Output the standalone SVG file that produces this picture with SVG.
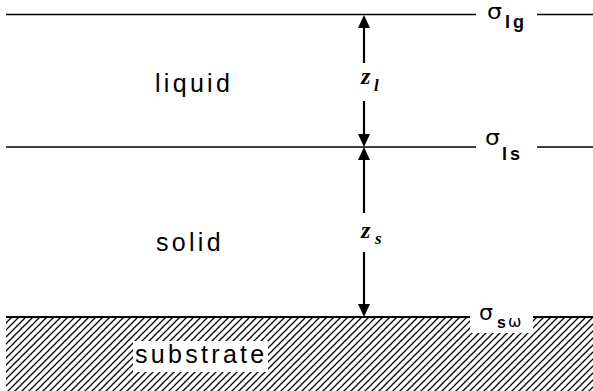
<svg xmlns="http://www.w3.org/2000/svg" width="593" height="391" viewBox="0 0 593 391">
<style>
.ln{stroke:#000;stroke-width:1.4;fill:none}
.ar{stroke:#000;stroke-width:2.2;fill:none}
.lab{font-family:"Liberation Sans",Arial,sans-serif;font-size:25px;letter-spacing:3.3px;fill:#000}
.sig{font-family:"DejaVu Sans",sans-serif;font-size:21px;fill:#000}
.sub{font-family:"Liberation Sans",Arial,sans-serif;font-weight:bold;font-size:18px;letter-spacing:3px;fill:#000}
.z{font-family:"Liberation Serif",serif;font-weight:bold;font-style:italic;font-size:24px;fill:#000}
.zs{font-family:"Liberation Serif",serif;font-weight:bold;font-style:italic;font-size:17px;fill:#000}
</style>
<defs>
<pattern id="hatch" patternUnits="userSpaceOnUse" width="7" height="7">
<path d="M-1,8 L8,-1 M-1,1 L1,-1 M6,8 L8,6" stroke="#000" stroke-width="1.25"/>
</pattern>
<marker id="ah" markerUnits="userSpaceOnUse" viewBox="0 0 13 12" markerWidth="13" markerHeight="12" refX="9" refY="6" orient="auto">
<path d="M0,0 L13,6 L0,12 z" fill="#000"/>
</marker>
</defs>
<rect width="593" height="391" fill="#fff"/>
<g id="substrate">
<rect x="6" y="317" width="587" height="74" fill="url(#hatch)"/>
<rect x="470" y="305" width="63" height="28" fill="#fff"/>
<rect x="133" y="341" width="135" height="31" fill="#fff"/>
<line class="ln" x1="6" y1="317" x2="470" y2="317" style="stroke-width:2"/>
<line class="ln" x1="533" y1="317" x2="593" y2="317" style="stroke-width:2"/>
<text class="lab" x="135" y="363">substrate</text>
</g>
<g id="liquid-gas-interface">
<line class="ln" x1="6" y1="14.5" x2="476" y2="14.5"/>
<line class="ln" x1="537" y1="14.5" x2="593" y2="14.5"/>
<text class="sig" x="487" y="19" textLength="15" lengthAdjust="spacingAndGlyphs">σ</text>
<text class="sub" x="505" y="28">lg</text>
</g>
<g id="liquid-solid-interface">
<line class="ln" x1="6" y1="147" x2="476" y2="147"/>
<line class="ln" x1="537" y1="147" x2="593" y2="147"/>
<text class="sig" x="485" y="145" textLength="15" lengthAdjust="spacingAndGlyphs">σ</text>
<text class="sub" x="502" y="160">ls</text>
</g>
<g id="substrate-label">
<text class="sig" x="479" y="320" textLength="14" lengthAdjust="spacingAndGlyphs">σ</text>
<text class="sub" x="497" y="328" style="font-size:16px;letter-spacing:0">s</text>
<text class="sig" x="508" y="327" style="font-size:16px">ω</text>
</g>
<g id="liquid">
<text class="lab" x="155" y="92">liquid</text>
</g>
<g id="solid">
<text class="lab" x="156" y="251">solid</text>
</g>
<g id="connectors">
<line class="ar" x1="364" y1="63" x2="364" y2="19" marker-end="url(#ah)"/>
<line class="ar" x1="364" y1="101" x2="364" y2="143" marker-end="url(#ah)"/>
<line class="ar" x1="364" y1="213" x2="364" y2="151" marker-end="url(#ah)"/>
<line class="ar" x1="364" y1="252" x2="364" y2="313" marker-end="url(#ah)"/>
<text class="z" x="361" y="84">z</text>
<text class="zs" x="374" y="91">l</text>
<text class="z" x="361" y="238">z</text>
<text class="zs" x="375" y="244">s</text>
</g>
</svg>
